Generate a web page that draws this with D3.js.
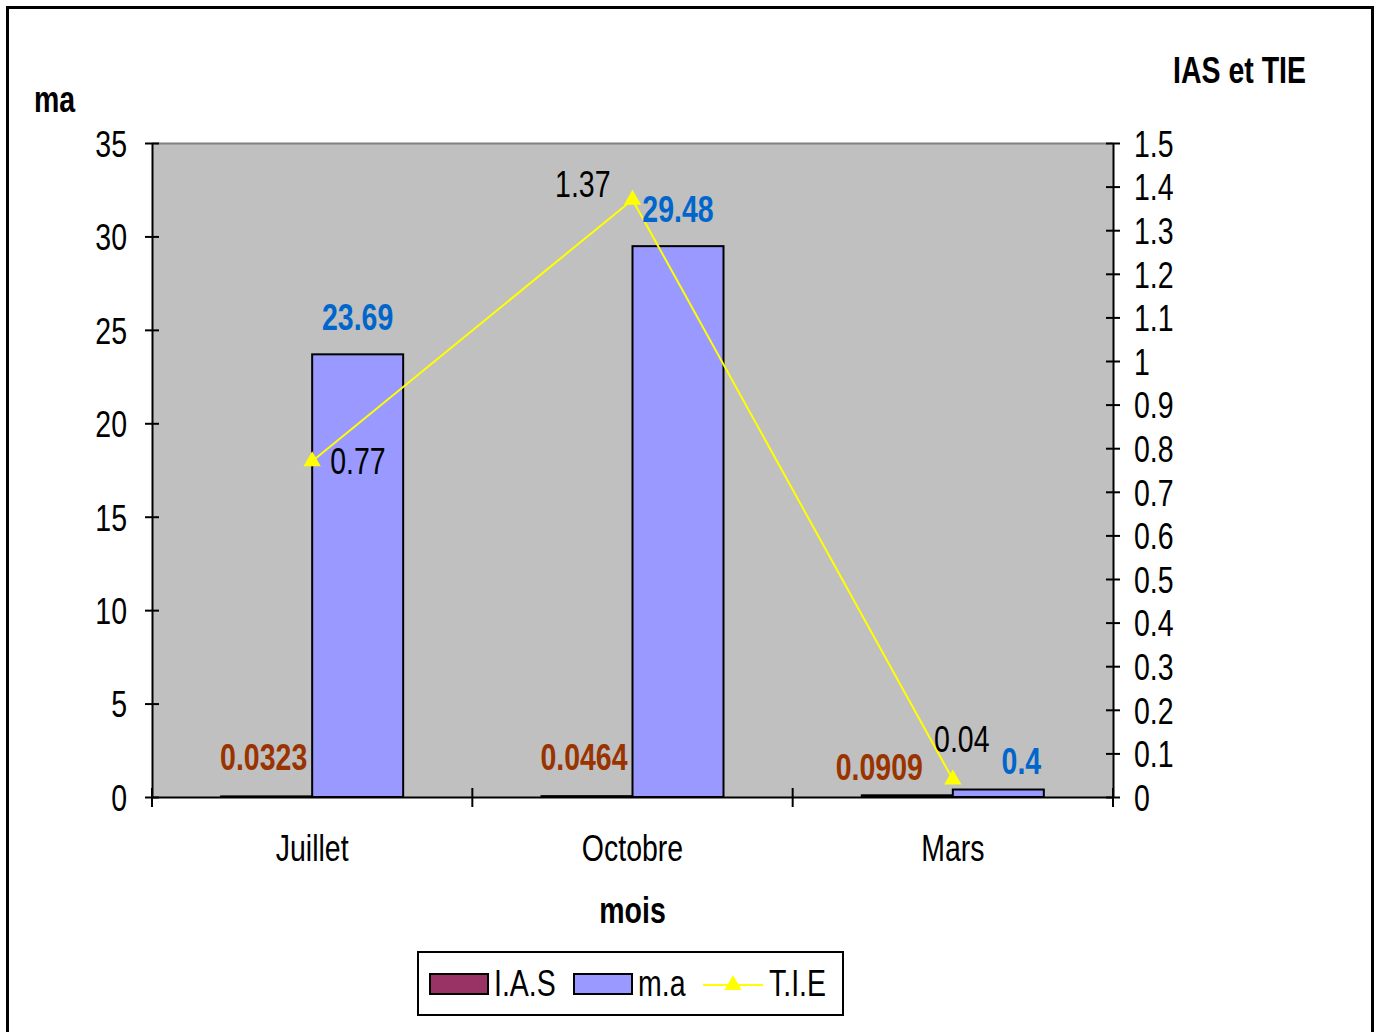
<!DOCTYPE html>
<html>
<head>
<meta charset="utf-8">
<script src="https://cdn.jsdelivr.net/npm/d3@7"></script>
<style>
  body { margin: 0; background: #fff; }
  text { font-family: "Liberation Sans", Arial, sans-serif; }
</style>
</head>
<body>
<div id="chart"></div>
<script>
// data
const months = ["Juillet", "Octobre", "Mars"];
const ias = [0.0323, 0.0464, 0.0909];
const ma = [23.69, 29.48, 0.4];
const tie = [0.77, 1.37, 0.04];
const tiePos = ["right", "left", "above"];   // where each T.I.E label sits
const leftTicks = [0, 5, 10, 15, 20, 25, 30, 35];
const rightTicks = d3.range(0, 16).map(i => i / 10);

const W = 1377, H = 1032;
const plot = {left: 152, right: 1113, top: 143, bottom: 797};
const fs = 37;
const narrow = 0.77;   // the original font is a condensed one

const svg = d3.select("#chart").append("svg")
    .attr("width", W).attr("height", H);

// outer frame
svg.append("rect")
    .attr("x", 7.5).attr("y", 7.5)
    .attr("width", 1365).attr("height", 1040)
    .attr("fill", "#fff").attr("stroke", "#000").attr("stroke-width", 3);

const x = d3.scaleBand().domain(months).range([plot.left, plot.right]).padding(0);
const xs = d3.scaleBand().domain(["I.A.S", "m.a"])
    .range([x.bandwidth() / 2 - 91, x.bandwidth() / 2 + 91]);
const yL = d3.scaleLinear().domain([0, 35]).range([plot.bottom, plot.top]);
const yR = d3.scaleLinear().domain([0, 1.5]).range([plot.bottom, plot.top]);
const cx = m => x(m) + x.bandwidth() / 2;

// plot background
svg.append("rect")
    .attr("x", plot.left).attr("y", plot.top)
    .attr("width", plot.right - plot.left).attr("height", plot.bottom - plot.top)
    .attr("fill", "#C0C0C0");
svg.append("line")
    .attr("x1", plot.left).attr("x2", plot.right)
    .attr("y1", plot.top + 0.5).attr("y2", plot.top + 0.5)
    .attr("stroke", "#808080").attr("stroke-width", 2);

// bars
const rows = months.map((m, i) => ({m, ias: ias[i], ma: ma[i], tie: tie[i], pos: tiePos[i]}));

svg.append("g").selectAll("rect")
    .data(rows).join("rect")
    .attr("x", d => x(d.m) + xs("I.A.S"))
    .attr("y", d => yL(d.ias))
    .attr("width", xs.bandwidth())
    .attr("height", d => Math.max(plot.bottom - yL(d.ias), 0))
    .attr("fill", "#993366").attr("stroke", "#000").attr("stroke-width", 2);

svg.append("g").selectAll("rect")
    .data(rows).join("rect")
    .attr("x", d => x(d.m) + xs("m.a"))
    .attr("y", d => yL(d.ma))
    .attr("width", xs.bandwidth())
    .attr("height", d => plot.bottom - yL(d.ma))
    .attr("fill", "#9999FF").attr("stroke", "#000").attr("stroke-width", 2);

// axes
const axL = svg.append("g").attr("transform", `translate(${plot.left},0)`)
    .call(d3.axisLeft(yL).tickValues(leftTicks).tickSize(7).tickSizeOuter(0).tickPadding(18));
axL.selectAll(".tick line").attr("x2", 7).attr("x1", -7).attr("stroke-width", 2);
axL.select(".domain").attr("stroke-width", 2);
axL.selectAll("text").style("font-size", fs + "px").attr("dy", "0.36em");

const axR = svg.append("g").attr("transform", `translate(${plot.right},0)`)
    .call(d3.axisRight(yR).tickValues(rightTicks).tickFormat(d3.format("~g")).tickSize(7).tickSizeOuter(0).tickPadding(14));
axR.selectAll(".tick line").attr("x1", -7).attr("x2", 7).attr("stroke-width", 2);
axR.select(".domain").attr("stroke-width", 2);
axR.selectAll("text").style("font-size", fs + "px").attr("dy", "0.36em");

const axB = svg.append("g").attr("transform", `translate(0,${plot.bottom})`)
    .call(d3.axisBottom(x).tickSize(0).tickPadding(38));
axB.select(".domain").attr("stroke-width", 2);
axB.selectAll("text").style("font-size", fs + "px");
// category boundary ticks
const bounds = months.map(m => x(m)).concat([plot.right]);
svg.append("g").selectAll("line")
    .data(bounds).join("line")
    .attr("x1", d => d).attr("x2", d => d)
    .attr("y1", plot.bottom - 9).attr("y2", plot.bottom + 10)
    .attr("stroke", "#000").attr("stroke-width", 2);

// T.I.E line
const line = d3.line().x(d => cx(d.m)).y(d => yR(d.tie));
svg.append("path").datum(rows)
    .attr("d", line).attr("fill", "none")
    .attr("stroke", "#FFFF00").attr("stroke-width", 2);
const tri = d3.symbol().type(d3.symbolTriangle).size(130);
svg.append("g").selectAll("path")
    .data(rows).join("path")
    .attr("d", tri)
    .attr("transform", d => `translate(${cx(d.m)},${yR(d.tie)})`)
    .attr("fill", "#FFFF00");

// T.I.E labels
const tieLab = svg.append("g").selectAll("text")
    .data(rows).join("text")
    .attr("x", d => d.pos === "right" ? cx(d.m) + 18 : d.pos === "left" ? cx(d.m) - 22 : cx(d.m) + 9)
    .attr("y", d => {
        const cy = yR(d.tie);
        return d.pos === "right" ? cy + 13 : d.pos === "left" ? cy - 3 : cy - 28;
    })
    .attr("text-anchor", d => d.pos === "right" ? "start" : d.pos === "left" ? "end" : "middle")
    .style("font-size", fs + "px")
    .attr("fill", "#000")
    .text(d => d.tie);

// I.A.S labels, kept clear of the T.I.E marker
const iasLab = svg.append("g").selectAll("text")
    .data(rows).join("text")
    .attr("text-anchor", "middle")
    .style("font-size", fs + "px").style("font-weight", "bold")
    .attr("fill", "#993300")
    .text(d => d.ias);
iasLab.each(function(d) {
    const half = this.getComputedTextLength() * narrow / 2;
    let c = x(d.m) + xs("I.A.S") + xs.bandwidth() / 2 - 3;
    let y = yL(d.ias) - 26;
    const limit = cx(d.m) - 30;
    if (c + half > limit && yR(d.tie) > yL(d.ias) - 80) { c = limit - half; y += 11; }
    d3.select(this).attr("x", c).attr("y", y);
});

// m.a labels, pushed right when the T.I.E label sits above the bar
const tieRight = [];
tieLab.each(function(d, i) {
    const w = this.getComputedTextLength() * narrow;
    const x0 = +this.getAttribute("x");
    tieRight[i] = d.pos === "middle" || d.pos === "above" ? x0 + w / 2 : d.pos === "left" ? x0 : x0 + w;
});
svg.append("g").selectAll("text")
    .data(rows).join("text")
    .attr("text-anchor", "middle")
    .style("font-size", fs + "px").style("font-weight", "bold")
    .attr("fill", "#0066CC")
    .text(d => d.ma)
    .each(function(d, i) {
        const half = this.getComputedTextLength() * narrow / 2;
        let c = x(d.m) + xs("m.a") + xs.bandwidth() / 2;
        let y = yL(d.ma) - 24;
        if (d.pos === "above" && c - half < tieRight[i] + 12) { c = tieRight[i] + 12 + half; y += 8; }
        d3.select(this).attr("x", c).attr("y", y);
    });

// axis titles
svg.append("text").attr("x", 34).attr("y", 112)
    .style("font-size", fs + "px").style("font-weight", "bold").text("ma");
svg.append("text").attr("x", 1173).attr("y", 83)
    .style("font-size", fs + "px").style("font-weight", "bold").text("IAS et TIE");
svg.append("text").attr("x", (plot.left + plot.right) / 2).attr("y", 923)
    .attr("text-anchor", "middle")
    .style("font-size", fs + "px").style("font-weight", "bold").text("mois");

// legend
const lg = svg.append("g");
lg.append("rect").attr("x", 418).attr("y", 952).attr("width", 425).attr("height", 63)
    .attr("fill", "#fff").attr("stroke", "#000").attr("stroke-width", 2);
const legendItems = [
    {name: "I.A.S", type: "bar", color: "#993366", x: 430},
    {name: "m.a", type: "bar", color: "#9999FF", x: 574},
    {name: "T.I.E", type: "line", color: "#FFFF00", x: 703}
];
legendItems.forEach(it => {
    if (it.type === "bar") {
        lg.append("rect").attr("x", it.x).attr("y", 974).attr("width", 58).attr("height", 20)
            .attr("fill", it.color).attr("stroke", "#000").attr("stroke-width", 2);
    } else {
        lg.append("line").attr("x1", it.x).attr("x2", it.x + 60).attr("y1", 985).attr("y2", 985)
            .attr("stroke", it.color).attr("stroke-width", 2);
        lg.append("path").attr("d", tri).attr("transform", `translate(${it.x + 30},985)`)
            .attr("fill", it.color);
    }
    lg.append("text").attr("x", it.x + (it.type === "bar" ? 64 : 66)).attr("y", 996)
        .style("font-size", fs + "px").text(it.name);
});

// squeeze every text to the condensed look of the original
svg.selectAll("text").each(function() {
    const w = this.getComputedTextLength();
    this.setAttribute("textLength", w * narrow);
    this.setAttribute("lengthAdjust", "spacingAndGlyphs");
});
</script>
</body>
</html>
